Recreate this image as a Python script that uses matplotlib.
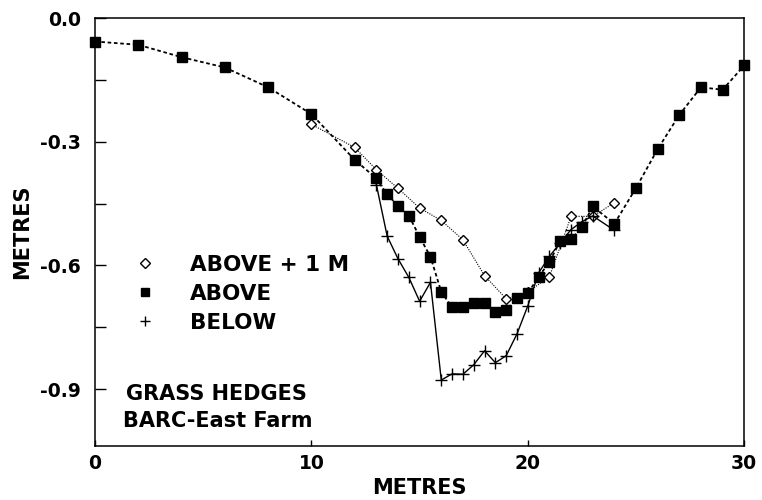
import matplotlib
matplotlib.use('Agg')
import matplotlib.pyplot as plt
from matplotlib.lines import Line2D
from matplotlib.ticker import MultipleLocator

plt.rcParams['font.family'] = 'DejaVu Sans'
plt.rcParams['font.weight'] = 'bold'

# ABOVE + 1 M (open diamonds)
x_plus1 = [10, 12, 13, 14, 15, 16, 17, 18, 19, 20, 21, 22, 23, 24]
y_plus1 = [-0.258, -0.314, -0.368, -0.413, -0.461, -0.491, -0.538, -0.625,
           -0.681, -0.665, -0.627, -0.481, -0.481, -0.448]

# ABOVE (filled squares)
x_above = [0, 2, 4, 6, 8, 10, 12, 13, 13.5, 14, 14.5, 15, 15.5, 16, 16.5, 17,
           17.5, 18, 18.5, 19, 19.5, 20, 20.5, 21, 21.5, 22, 22.5, 23, 24, 25,
           26, 27, 28, 29, 30]
y_above = [-0.057, -0.065, -0.095, -0.120, -0.168, -0.233, -0.344, -0.389,
           -0.428, -0.455, -0.479, -0.531, -0.579, -0.664, -0.702, -0.702,
           -0.690, -0.690, -0.714, -0.708, -0.680, -0.667, -0.628, -0.591,
           -0.541, -0.537, -0.507, -0.457, -0.499, -0.412, -0.318, -0.235,
           -0.168, -0.174, -0.115]

# BELOW (plus)
x_below = [13, 13.5, 14, 14.5, 15, 15.5, 16, 16.5, 17, 17.5, 18, 18.5, 19,
           19.5, 20, 20.5, 21, 21.5, 22, 22.5, 23, 24]
y_below = [-0.404, -0.529, -0.584, -0.629, -0.687, -0.641, -0.878, -0.863,
           -0.864, -0.841, -0.807, -0.836, -0.819, -0.766, -0.698, -0.618,
           -0.578, -0.545, -0.513, -0.494, -0.480, -0.515]

fig = plt.figure(figsize=(7.62, 5.0), dpi=100)
ax = fig.add_axes([0.1247, 0.108, 0.852, 0.856])

ax.plot(x_plus1, y_plus1, linestyle=(0, (1, 1.2)), linewidth=0.8, color='black',
        marker='D', markersize=5, markerfacecolor='white',
        markeredgecolor='black', markeredgewidth=1.0, zorder=2, clip_on=False)
ax.plot(x_below, y_below, linestyle='-', linewidth=1.0, color='black',
        marker='+', markersize=8, markeredgewidth=1.0, zorder=3, clip_on=False)
ax.plot(x_above, y_above, linestyle=(0, (2, 1.5)), linewidth=1.3, color='black',
        marker='s', markersize=7, markerfacecolor='black',
        markeredgecolor='black', zorder=4, clip_on=False)

ax.set_xlim(0, 30)
ax.set_ylim(-1.038, 0)
ax.xaxis.set_major_locator(MultipleLocator(10))
ax.yaxis.set_major_locator(MultipleLocator(0.3))
ax.yaxis.set_minor_locator(MultipleLocator(0.15))
ax.yaxis.set_major_formatter(plt.FuncFormatter(lambda v, p: f'{v:.1f}'))

ax.tick_params(axis='y', which='both', direction='in', length=8, width=1.0,
               labelsize=13.5, pad=10)
ax.tick_params(axis='x', which='major', direction='in', length=4, width=1.0,
               labelsize=13.5, pad=6)
for lbl in ax.get_xticklabels() + ax.get_yticklabels():
    lbl.set_fontweight('bold')
for sp in ax.spines.values():
    sp.set_linewidth(1.1)

ax.set_xlabel('METRES', fontsize=15, fontweight='bold', labelpad=3)
ax.set_ylabel('METRES', fontsize=15, fontweight='bold', labelpad=6)

handles = [
    Line2D([], [], linestyle='none', marker='D', markersize=5,
           markerfacecolor='white', markeredgecolor='black', markeredgewidth=1.0),
    Line2D([], [], linestyle='none', marker='s', markersize=6,
           markerfacecolor='black', markeredgecolor='black'),
    Line2D([], [], linestyle='none', marker='+', markersize=7,
           markeredgewidth=1.0, color='black'),
]
labels = ['ABOVE + 1 M', 'ABOVE', 'BELOW']
ax.legend(handles, labels, loc='upper left', bbox_to_anchor=(0.06, 0.447),
          frameon=False, handlelength=1.0, handletextpad=1.6,
          labelspacing=0.42, borderpad=0, borderaxespad=0,
          prop={'weight': 'bold', 'size': 15.5})

ax.text(0.047, 0.121, 'GRASS HEDGES', transform=ax.transAxes, fontsize=15,
        fontweight='bold', va='center', ha='left')
ax.text(0.043, 0.058, 'BARC-East Farm', transform=ax.transAxes, fontsize=15,
        fontweight='bold', va='center', ha='left')

plt.savefig('out.png', dpi=100)
